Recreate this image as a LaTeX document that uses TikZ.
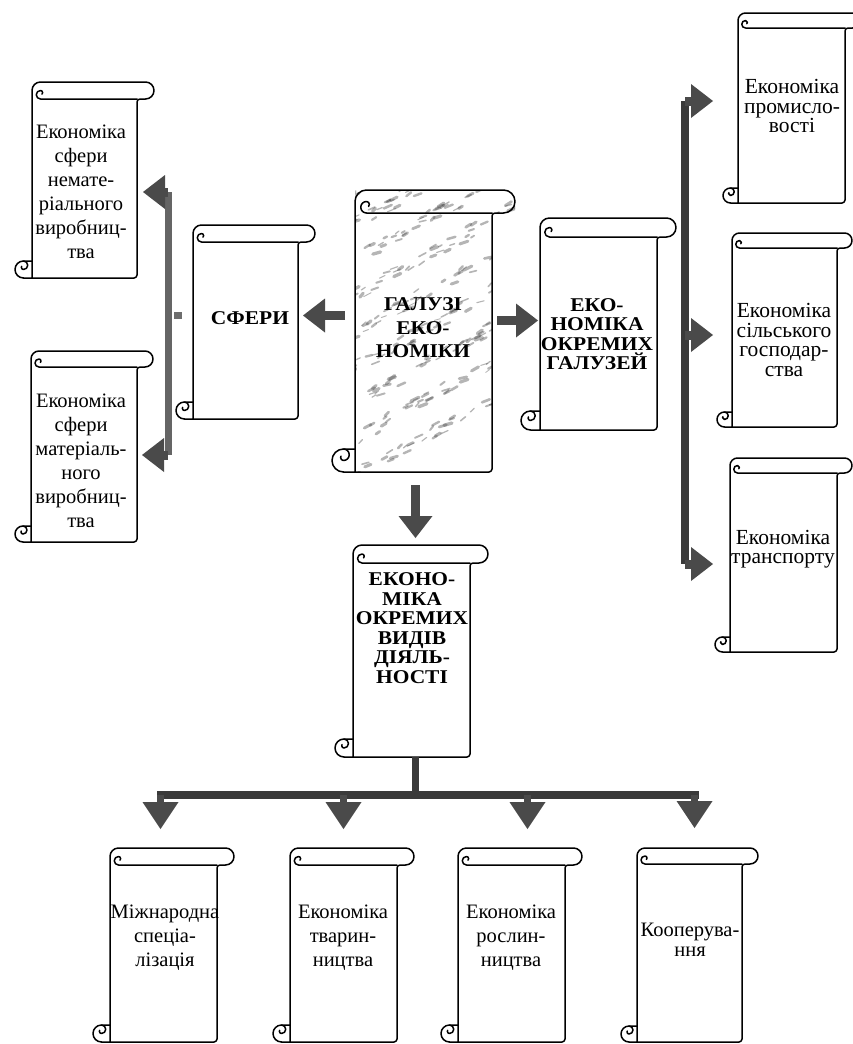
\documentclass[tikz,border=0pt]{standalone}
\usepackage{fontspec}
\setmainfont{Liberation Serif}
\newfontfamily\headfont[FakeStretch=1.1]{Liberation Serif Bold}
\usetikzlibrary{arrows.meta}
\definecolor{arrowgray}{HTML}{4A4A4A}
\definecolor{bargray}{HTML}{3A3A3A}
\setlength{\lineskiplimit}{-30pt}

% scroll: name, left, top of roll, right, bottom, roll height
\newcommand\scrollnode[6]{%
  \pgfmathsetmacro\scrh{#6/2}\pgfmathsetmacro\scrq{#6/4}%
  \node[body, minimum width={(#4-#2)*1pt}, minimum height={(#5-#3-#6)*1pt}]
    (#1) at ({(#2+#4)/2},{(#3+#6+#5)/2}) {};
  \draw[frame] (#2-\scrh,#5) [rounded corners=3pt] -- (#4,#5) -- (#4,#3+#6) [sharp corners]
    -- (#4+\scrh,#3+#6) arc[start angle=-90,end angle=90,radius={\scrh*1pt}]
    -- (#2+\scrh,#3) arc[start angle=90,end angle=180,radius={\scrh*1pt}] -- (#2,#5-1);
  \draw[frame] (#4,#3+#6) -- (#2+\scrh,#3+#6)
    arc[start angle=-90,end angle=-270,radius={\scrq*1pt}]
    arc[start angle=90,end angle=-45,radius={\scrq/2*1pt}];
  \draw[frame] (#2,#5-#6) -- (#2-\scrh,#5-#6)
    arc[start angle=90,end angle=270,radius={\scrh*1pt}];
  \draw[frame] (#2-\scrh,#5-#6) arc[start angle=90,end angle=-90,radius={\scrq*1pt}]
    arc[start angle=270,end angle=150,radius={\scrq/2*1pt}];
}

\begin{document}
\begin{tikzpicture}[x=1pt, y=-1pt,
  body/.style={inner sep=0pt, outer sep=0pt},
  frame/.style={line width=1.5pt, line join=round, line cap=round},
  txt/.style={align=center, inner sep=0pt, font=\fontsize{20.5}{24}\selectfont},
  txtr/.style={txt, font=\fontsize{21.5}{19.5}\selectfont},
  head/.style={align=center, inner sep=0pt, font=\headfont\fontsize{19.5}{19.5}\selectfont},
  fat/.style={draw=arrowgray, line width=9pt, -{Triangle[length=22pt, width=34pt, line width=0pt]}},
  falldown/.style={fat, line width=7pt, -{Triangle[length=27pt, width=36pt, line width=0pt]}},
  bar/.style={draw=bargray, line width=7pt}]
\useasboundingbox (0,0) rectangle (852,1044);

% marbled middle scroll
\begin{scope}
\clip (355,190) rectangle (515,213) (355,213) rectangle (492,472);
\pgfmathsetseed{11}
\foreach \k in {0,...,8}
  \foreach \i in {1,...,45}{
    \pgfmathsetmacro\pos{rnd*200}
    \draw[gray!55!black, opacity=.4, line cap=round, line width={(0.8+2.6*rnd)*1pt}]
      ({340+\pos},{195+\k*36-0.55*\pos+rand*7}) -- ++({3+5*rnd},{-1.5-2.5*rnd});
  }
\end{scope}

\scrollnode{nem}{32}{82}{137}{278}{17}
\scrollnode{mat}{31}{351}{137}{542}{16}
\scrollnode{sfery}{193}{225}{298}{419}{17}
\scrollnode{galuzi}{355}{190}{492}{472}{23}
\scrollnode{okr}{540}{218}{657}{430}{19}
\scrollnode{vydy}{353}{545}{470}{757}{18}
\scrollnode{prom}{738}{13}{845}{203}{15}
\scrollnode{sil}{732}{233}{837}{427}{15}
\scrollnode{trans}{730}{458}{837}{652}{15}
\scrollnode{mizh}{110}{848}{217}{1042}{17}
\scrollnode{tvar}{290}{848}{397}{1042}{17}
\scrollnode{rosl}{458}{848}{565}{1042}{17}
\scrollnode{koop}{637}{848}{742}{1042}{16}

\node[txt] (nem-t) at (81,192) {Економіка\\сфери\\немате-\\ріального\\виробниц-\\тва};
\node[txt] (mat-t) at (81,461) {Економіка\\сфери\\матеріаль-\\ного\\виробниц-\\тва};
\node[head] (sfery-t) at (250,318) {СФЕРИ};
\node[head, font=\headfont\fontsize{19.5}{23.5}\selectfont] (galuzi-t) at (423,328) {ГАЛУЗІ\\ЕКО-\\НОМІКИ};
\node[head] (okr-t) at (597,334) {ЕКО-\\НОМІКА\\ОКРЕМИХ\\ГАЛУЗЕЙ};
\node[head] (vydy-t) at (412,628) {ЕКОНО-\\МІКА\\ОКРЕМИХ\\ВИДІВ\\ДІЯЛЬ-\\НОСТІ};
\node[txtr] (prom-t) at (792,106) {Економіка\\промисло-\\вості};
\node[txtr] (sil-t) at (784,340) {Економіка\\сільського\\господар-\\ства};
\node[txtr] (trans-t) at (783,549) {Економіка\\транспорту};
\node[txt] (mizh-t) at (165,938) {Міжнародна\\спеціа-\\лізація};
\node[txt] (tvar-t) at (343,938) {Економіка\\тварин-\\ництва};
\node[txt] (rosl-t) at (511,938) {Економіка\\рослин-\\ництва};
\node[txt, font=\fontsize{20.5}{20}\selectfont] (koop-t) at (690,940) {Кооперува-\\ння};

% arrows out of the middle scroll
\draw[fat, shorten <=10pt, shorten >=5pt] ([yshift=27pt]galuzi.west) -- ([yshift=27pt]galuzi.west -| sfery.east);
\draw[fat, shorten <=5pt, shorten >=2pt] ([yshift=22pt]galuzi.east) -- ([yshift=22pt]galuzi.east -| okr.west);
\draw[fat, shorten <=13pt, shorten >=25pt] ([xshift=-8pt]galuzi.south) -- ([xshift=-8pt]galuzi.south |- vydy.north);

% left bar
\coordinate (lt) at (168,192);
\coordinate (lb) at (168,455);
\draw[bar, draw=arrowgray!85] (lt) -- (lb);
\draw[fat, shorten >=6pt] (lt) -- (lt -| nem.east);
\draw[fat, shorten >=5pt] (lb) -- (lb -| mat.east);
\fill[arrowgray!80] (174,312) rectangle (182,319);

% right bar
\coordinate (rt) at (685,101);
\coordinate (rm) at (685,335);
\coordinate (rb) at (685,564);
\draw[bar, line width=8pt] (rt) -- (rb);
\draw[fat, shorten >=25pt] (rt) -- (rt -| prom.west);
\draw[fat, shorten >=19pt] (rm) -- (rm -| sil.west);
\draw[fat, shorten >=17pt] (rb) -- (rb -| trans.west);

% tree below
\coordinate (hb) at (415,795);
\coordinate (hl) at (157,795);
\coordinate (hr) at (699,795);
\draw[bar] ([xshift=3.5pt]vydy.south) -- ([xshift=3.5pt]vydy.south |- hb);
\draw[bar, line width=8pt] (hl) -- (hr);
\foreach \n/\dx in {mizh/-3, tvar/0, rosl/16, koop/5}
  \draw[falldown, shorten >=36pt] ([xshift=\dx pt]hb -| \n.north) -- ([xshift=\dx pt]\n.north);
\end{tikzpicture}
\end{document}
